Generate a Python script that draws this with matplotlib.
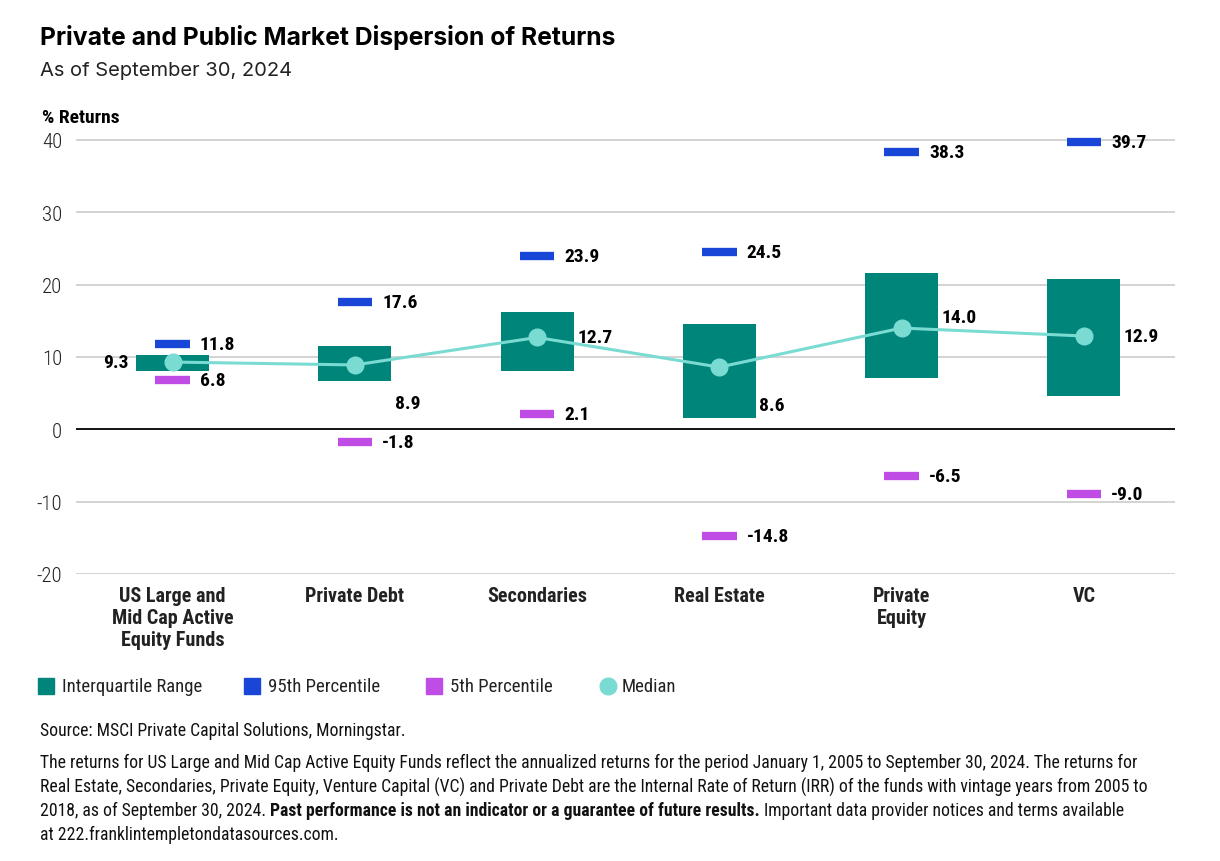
import matplotlib
matplotlib.use("Agg")
import matplotlib.pyplot as plt
from matplotlib.patches import Rectangle
from matplotlib.lines import Line2D
from matplotlib import font_manager as fm

# ---------------- data ----------------
categories = ["US Large and\nMid Cap Active\nEquity Funds", "Private Debt", "Secondaries",
              "Real Estate", "Private\nEquity", "VC"]
q1 = [8.1, 6.7, 8.0, 1.5, 7.1, 4.6]
q3 = [10.3, 11.5, 16.2, 14.6, 21.6, 20.8]
p95 = [11.8, 17.6, 23.9, 24.5, 38.3, 39.7]
p5 = [6.8, -1.8, 2.1, -14.8, -6.5, -9.0]
median = [9.3, 8.9, 12.7, 8.6, 14.0, 12.9]
yticks = [-20, -10, 0, 10, 20, 30, 40]
legend_labels = ["Interquartile Range", "95th Percentile", "5th Percentile", "Median"]

# ---------------- style ----------------
C_IQR = "#00857A"
C_95 = "#1A46D8"
C_5 = "#C04CE6"
C_MED = "#7ADBD3"

avail = {f.name for f in fm.fontManager.ttflist}
def pick(cands):
    got = [f for f in cands if f in avail]
    return (got[:1] or []) + ["DejaVu Sans"]
NARROW = pick(["Roboto Condensed", "IBM Plex Sans Condensed", "Barlow Condensed", "Open Sans Condensed", "Roboto"])
TITLE = pick(["Inter", "Roboto"])

fig = plt.figure(figsize=(12.2, 8.62), dpi=100)
W, H = 1220, 862
ax = fig.add_axes([76 / W, 1 - 575 / H, (1175 - 76) / W, (575 - 126.5) / H])

x = list(range(len(categories)))
bw = 0.40
for i in x:
    ax.add_patch(Rectangle((i - bw / 2, q1[i]), bw, q3[i] - q1[i], color=C_IQR, zorder=2, lw=0))
ax.hlines(p95, [i - 0.095 for i in x], [i + 0.095 for i in x], colors=C_95, lw=6, zorder=3)
ax.hlines(p5, [i - 0.095 for i in x], [i + 0.095 for i in x], colors=C_5, lw=6, zorder=3)
ax.plot(x, median, color=C_MED, lw=2.2, marker="o", ms=12, zorder=4)

lab_kw = dict(fontsize=14, fontweight="bold", family=NARROW, va="center", color="black", zorder=5)
for i in x:
    ax.text(i + 0.15, p95[i], f"{p95[i]:.1f}", ha="left", **lab_kw)
    ax.text(i + 0.15, p5[i], f"{p5[i]:.1f}", ha="left", **lab_kw)
med_dx = [-0.24, 0.22, 0.22, 0.22, 0.22, 0.22]
med_dy = [0, -5.3, 0, -5.3, 1.5, 0]
for i in x:
    ha = "right" if med_dx[i] < 0 else "left"
    ax.text(i + med_dx[i], median[i] + med_dy[i], f"{median[i]:.1f}", ha=ha, **lab_kw)

ax.set_xlim(-0.53, 5.5)
ax.set_ylim(-20, 42)
ax.set_yticks(yticks)
ax.set_yticklabels([str(t) for t in yticks], family=NARROW, fontsize=15, color="#222222",
                   fontweight="light")
ax.tick_params(axis="y", length=0, pad=10)
ax.tick_params(axis="x", length=0, pad=9)
ax.set_xticks(x)
ax.set_xticklabels(categories, family=NARROW, fontweight="bold", fontsize=14.5, color="#222222",
                   linespacing=1.2, va="top")
for s in ax.spines.values():
    s.set_visible(False)
for t in yticks:
    ax.axhline(t, color="black" if t == 0 else "#CCCCCC", lw=1.3 if t == 0 else 1.2, zorder=1)

# ---------------- titles ----------------
fig.text(40 / W, 1 - 37 / H, "Private and Public Market Dispersion of Returns", family=TITLE,
         fontweight="bold", fontsize=17.8, va="center", ha="left", color="black")
fig.text(40 / W, 1 - 71 / H, "As of September 30, 2024", family=TITLE, fontsize=14.5,
         va="center", ha="left", color="#222222")
fig.text(42 / W, 1 - 118 / H, "% Returns", family=NARROW, fontweight="bold", fontsize=14,
         va="center", ha="left", color="black")

# ---------------- legend (manual layout) ----------------
leg_handles = [("s", C_IQR), ("s", C_95), ("s", C_5), ("o", C_MED)]
leg_mark_x = [46, 252, 434, 608]
leg_text_x = [62, 268, 450, 622]
for (mk, c), mx, tx, lab in zip(leg_handles, leg_mark_x, leg_text_x, legend_labels):
    fig.add_artist(Line2D([mx / W], [1 - 687 / H], ls="none", marker=mk, ms=12, color=c,
                          transform=fig.transFigure))
    fig.text(tx / W, 1 - 687 / H, lab, family=NARROW, fontsize=13.5, va="center", ha="left",
             color="#222222")

# ---------------- notes ----------------
note_kw = dict(family=NARROW, fontsize=12.7, va="center", ha="left", color="#111111")
fig.text(40 / W, 1 - 731 / H, "Source: MSCI Private Capital Solutions, Morningstar.", **note_kw)
fig.text(40 / W, 1 - 763 / H,
         "The returns for US Large and Mid Cap Active Equity Funds reflect the annualized returns for the period January 1, 2005 to September 30, 2024. The returns for",
         **note_kw)
fig.text(40 / W, 1 - 787 / H,
         "Real Estate, Secondaries, Private Equity, Venture Capital (VC) and Private Debt are the Internal Rate of Return (IRR) of the funds with vintage years from 2005 to",
         **note_kw)
renderer = fig.canvas.get_renderer()
t1 = fig.text(40 / W, 1 - 811 / H, "2018, as of September 30, 2024. ", **note_kw)
bb = t1.get_window_extent(renderer)
t2 = fig.text(bb.x1 / W, 1 - 811 / H, "Past performance is not an indicator or a guarantee of future results.",
              fontweight="bold", **note_kw)
bb2 = t2.get_window_extent(renderer)
fig.text(bb2.x1 / W, 1 - 811 / H, " Important data provider notices and terms available", **note_kw)
fig.text(40 / W, 1 - 835 / H, "at 222.franklintempletondatasources.com.", **note_kw)

fig.savefig("out.png", dpi=100, facecolor="white")
